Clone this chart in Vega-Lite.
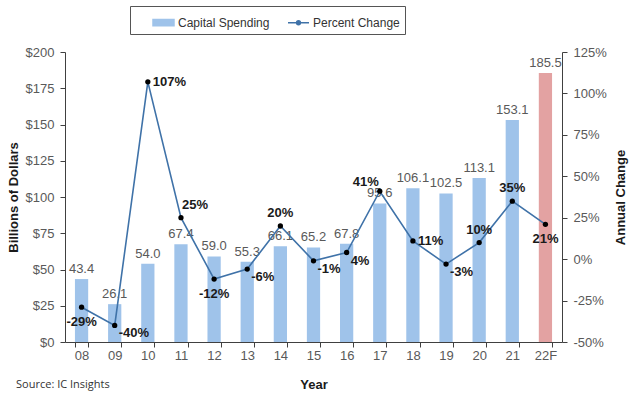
{
  "$schema": "https://vega.github.io/schema/vega-lite/v6.json",
  "width": 497,
  "height": 290,
  "autosize": {"type": "none"},
  "padding": {"left": 65, "top": 52, "right": 68, "bottom": 53},
  "background": "white",
  "title": {
    "text": "Source: IC Insights",
    "orient": "bottom",
    "anchor": "start",
    "font": "Open Sans",
    "fontSize": 11,
    "fontWeight": "normal",
    "color": "#333333",
    "dx": 9,
    "dy": -12,
    "offset": 0
  },
  "config": {
    "view": {"stroke": null},
    "font": "Liberation Sans",
    "axis": {
      "labelFont": "Liberation Sans",
      "labelFontSize": 13,
      "labelColor": "#595959",
      "titleFont": "Liberation Sans",
      "titleFontSize": 13,
      "titleFontWeight": "bold",
      "titleColor": "#1a1a1a",
      "domainColor": "#404040",
      "tickColor": "#404040",
      "grid": false,
      "tickSize": 5
    },
    "legend": {
      "labelFont": "Liberation Sans",
      "labelFontSize": 12,
      "labelColor": "#333333"
    }
  },
  "data": {
    "values": [
      {"year": "08", "spending": 43.4, "change": -29, "kind": "Capital Spending"},
      {"year": "09", "spending": 26.1, "change": -40, "kind": "Capital Spending"},
      {"year": "10", "spending": 54.0, "change": 107, "kind": "Capital Spending"},
      {"year": "11", "spending": 67.4, "change": 25, "kind": "Capital Spending"},
      {"year": "12", "spending": 59.0, "change": -12, "kind": "Capital Spending"},
      {"year": "13", "spending": 55.3, "change": -6, "kind": "Capital Spending"},
      {"year": "14", "spending": 66.1, "change": 20, "kind": "Capital Spending"},
      {"year": "15", "spending": 65.2, "change": -1, "kind": "Capital Spending"},
      {"year": "16", "spending": 67.8, "change": 4, "kind": "Capital Spending"},
      {"year": "17", "spending": 95.6, "change": 41, "kind": "Capital Spending"},
      {"year": "18", "spending": 106.1, "change": 11, "kind": "Capital Spending"},
      {"year": "19", "spending": 102.5, "change": -3, "kind": "Capital Spending"},
      {"year": "20", "spending": 113.1, "change": 10, "kind": "Capital Spending"},
      {"year": "21", "spending": 153.1, "change": 35, "kind": "Capital Spending"},
      {"year": "22F", "spending": 185.5, "change": 21, "kind": "Forecast"}
    ]
  },
  "encoding": {
    "x": {
      "field": "year",
      "type": "nominal",
      "sort": null,
      "scale": {"paddingInner": 0.6, "paddingOuter": 0.3},
      "axis": {
        "title": "Year",
        "labelAngle": 0,
        "tickBand": "extent",
        "labelPadding": 2,
        "titlePadding": 16
      }
    }
  },
  "layer": [
    {
      "encoding": {
        "y": {
          "field": "spending",
          "type": "quantitative",
          "scale": {"domain": [0, 200], "nice": false},
          "axis": {
            "title": "Billions of Dollars",
            "values": [0, 25, 50, 75, 100, 125, 150, 175, 200],
            "labelExpr": "'$' + datum.value",
            "labelPadding": 6,
            "titlePadding": 5
          }
        }
      },
      "layer": [
        {
          "mark": {"type": "bar"},
          "encoding": {
            "color": {
              "field": "kind",
              "type": "nominal",
              "scale": {
                "domain": ["Capital Spending", "Percent Change", "Forecast"],
                "range": ["#9fc3ea", "#3f72a8", "#e3a2a2"]
              },
              "legend": {
                "title": null,
                "orient": "none",
                "direction": "horizontal",
                "legendX": 65,
                "legendY": -46,
                "values": ["Capital Spending", "Percent Change"],
                "strokeColor": "#555555",
                "padding": 5,
                "symbolSize": 441,
                "symbolOffset": 17,
                "labelOffset": 3,
                "columnPadding": 0,
                "labelExpr": "datum.label == 'Percent Change' ? datum.label + '   ' : datum.label",
                "encode": {
                  "symbols": {
                    "update": {
                      "shape": {"signal": "datum.value === 'Capital Spending' ? 'M-1,-0.3H1V0.3H-1Z' : 'M-1,0H1M0.18,0A0.18,0.18,0,1,1,-0.18,0A0.18,0.18,0,1,1,0.18,0Z'"},
                      "fill": {"signal": "datum.value === 'Capital Spending' ? '#9fc3ea' : '#000000'"},
                      "stroke": {"signal": "datum.value === 'Capital Spending' ? null : '#3f72a8'"},
                      "strokeWidth": {"value": 1.5},
                      "opacity": {"value": 1},
                      "fillOpacity": {"value": 1}
                    }
                  }
                }
              }
            }
          }
        },
        {
          "mark": {"type": "text", "baseline": "bottom", "dy": -3, "fontSize": 13, "color": "#595959"},
          "encoding": {
            "text": {"field": "spending", "type": "quantitative", "format": ".1f"}
          }
        }
      ]
    },
    {
      "encoding": {
        "y": {
          "field": "change",
          "type": "quantitative",
          "scale": {"domain": [-50, 125], "nice": false},
          "axis": {
            "orient": "right",
            "title": "Annual Change",
            "values": [-50, -25, 0, 25, 50, 75, 100, 125],
            "labelExpr": "datum.value + '%'",
            "labelPadding": 6,
            "titleAngle": 270,
            "titleBaseline": "top",
            "titlePadding": 8
          }
        }
      },
      "layer": [
        {
          "mark": {"type": "line", "strokeWidth": 1.6},
          "encoding": {"color": {"datum": "Percent Change"}}
        },
        {
          "mark": {"type": "point", "filled": true, "color": "#000000", "size": 28, "opacity": 1}
        },
        {
          "transform": [{"filter": {"field": "year", "oneOf": ["14", "20", "21"]}}],
          "mark": {"type": "text", "align": "center", "baseline": "middle", "dy": -13, "fontSize": 13, "fontWeight": "bold", "color": "#1a1a1a", "text": {"expr": "datum.change + '%'"}}
        },
        {
          "transform": [{"filter": {"field": "year", "oneOf": ["11"]}}],
          "mark": {"type": "text", "align": "left", "baseline": "middle", "dx": 1, "dy": -13, "fontSize": 13, "fontWeight": "bold", "color": "#1a1a1a", "text": {"expr": "datum.change + '%'"}}
        },
        {
          "transform": [{"filter": {"field": "year", "oneOf": ["17"]}}],
          "mark": {"type": "text", "align": "right", "baseline": "middle", "dx": -1, "dy": -9, "fontSize": 13, "fontWeight": "bold", "color": "#1a1a1a", "text": {"expr": "datum.change + '%'"}}
        },
        {
          "transform": [{"filter": {"field": "year", "oneOf": ["08", "12", "22F"]}}],
          "mark": {"type": "text", "align": "center", "baseline": "middle", "dy": 15, "fontSize": 13, "fontWeight": "bold", "color": "#1a1a1a", "text": {"expr": "datum.change + '%'"}}
        },
        {
          "transform": [{"filter": {"field": "year", "oneOf": ["10", "18"]}}],
          "mark": {"type": "text", "align": "left", "baseline": "middle", "dx": 5, "dy": 0, "fontSize": 13, "fontWeight": "bold", "color": "#1a1a1a", "text": {"expr": "datum.change + '%'"}}
        },
        {
          "transform": [{"filter": {"field": "year", "oneOf": ["09", "13", "15", "16", "19"]}}],
          "mark": {"type": "text", "align": "left", "baseline": "middle", "dx": 4, "dy": 8, "fontSize": 13, "fontWeight": "bold", "color": "#1a1a1a", "text": {"expr": "datum.change + '%'"}}
        }
      ]
    }
  ],
  "resolve": {"scale": {"y": "independent"}}
}
